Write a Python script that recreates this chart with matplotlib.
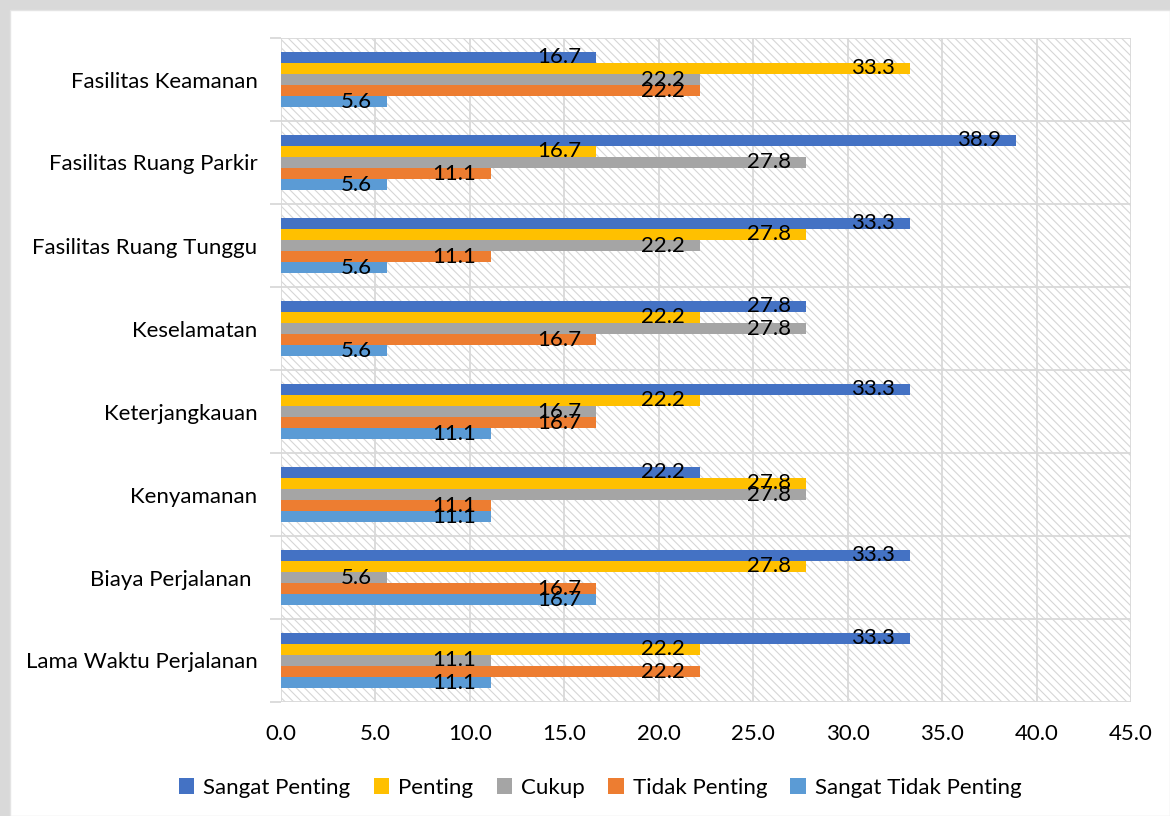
import matplotlib
matplotlib.use("Agg")
import matplotlib.pyplot as plt
from matplotlib.patches import Rectangle
import numpy as np

plt.rcParams['font.family'] = ['Lato', 'DejaVu Sans']
plt.rcParams['hatch.linewidth'] = 0.8
plt.rcParams['hatch.color'] = '#d6d6d6'

categories = [
    "Fasilitas Keamanan",
    "Fasilitas Ruang Parkir",
    "Fasilitas Ruang Tunggu",
    "Keselamatan",
    "Keterjangkauan",
    "Kenyamanan",
    "Biaya Perjalanan ",
    "Lama Waktu Perjalanan",
]
series_names = ["Sangat Penting", "Penting", "Cukup", "Tidak Penting", "Sangat Tidak Penting"]
sangat_penting = [16.7, 38.9, 33.3, 27.8, 33.3, 22.2, 33.3, 33.3]
penting = [33.3, 16.7, 27.8, 22.2, 22.2, 27.8, 27.8, 22.2]
cukup = [22.2, 27.8, 22.2, 27.8, 16.7, 27.8, 5.6, 11.1]
tidak_penting = [22.2, 11.1, 11.1, 16.7, 16.7, 11.1, 16.7, 22.2]
sangat_tidak_penting = [5.6, 5.6, 5.6, 5.6, 11.1, 11.1, 16.7, 11.1]
x_ticks = [0, 5, 10, 15, 20, 25, 30, 35, 40, 45]

series = [sangat_penting, penting, cukup, tidak_penting, sangat_tidak_penting]
colors = ["#4472C4", "#FFC000", "#A5A5A5", "#ED7D31", "#5B9BD5"]
FS = 16

fig = plt.figure(figsize=(11.7, 8.16), dpi=100)
fig.patch.set_facecolor('#d9d9d9')
# white chart area behind the axes
fig.patches.append(Rectangle((10 / 1170, 0), 1 - 10 / 1170, 1 - 10 / 816,
                             transform=fig.transFigure, facecolor='white',
                             edgecolor='#e4e4e4', lw=1.0, zorder=-5))

ax = fig.add_axes([281 / 1170, 1 - 702 / 816, (1131 - 281) / 1170, (702 - 38) / 816])
ax.set_facecolor('white')
ax.add_patch(Rectangle((0, 0), 1, 1, transform=ax.transAxes, facecolor='none',
                       edgecolor='#d6d6d6', hatch='\\\\\\\\', lw=0, zorder=0))

n_cat = len(categories)
n_ser = len(series)
bar_h = 0.133
y_centers = np.arange(n_cat)[::-1].astype(float)  # first category at top

for i, (vals, col, name) in enumerate(zip(series, colors, series_names)):
    offs = (i - (n_ser - 1) / 2) * bar_h
    ys = y_centers - offs
    ax.barh(ys, vals, height=bar_h, color=col, label=name, zorder=3)
    for y, v in zip(ys, vals):
        ax.annotate(f"{v:.1f}", xy=(v, y), xytext=(-15, 0), textcoords='offset pixels',
                    ha='right', va='center', fontsize=FS, color='black', zorder=4)

ax.set_xlim(0, 45)
ax.set_ylim(-0.5, n_cat - 0.5)
ax.set_xticks(x_ticks)
ax.set_xticklabels([f"{t:.1f}" for t in x_ticks], fontsize=FS)
ax.set_yticks(y_centers)
ax.set_yticklabels(categories, fontsize=FS)
ax.set_yticks(np.arange(-0.5, n_cat, 1.0), minor=True)

ax.tick_params(axis='x', length=0, pad=16)
ax.tick_params(axis='y', which='major', length=0, pad=17)
ax.tick_params(axis='y', which='minor', length=8, width=1.3, color='#d9d9d9', direction='out')

ax.grid(axis='x', which='major', color='#d9d9d9', lw=1.3, zorder=1)
ax.grid(axis='y', which='minor', color='#d9d9d9', lw=1.3, zorder=1)
ax.grid(axis='y', which='major', visible=False)
for s in ax.spines.values():
    s.set_visible(False)
ax.set_axisbelow(True)

handles, labels = ax.get_legend_handles_labels()
fig.legend(handles, labels, loc='center', bbox_to_anchor=(0.513, 1 - 788 / 816),
           ncol=5, frameon=False, fontsize=FS, handlelength=0.7, handleheight=0.7,
           handletextpad=0.4, columnspacing=1.05)

fig.savefig("out.png", dpi=100, facecolor=fig.get_facecolor())
